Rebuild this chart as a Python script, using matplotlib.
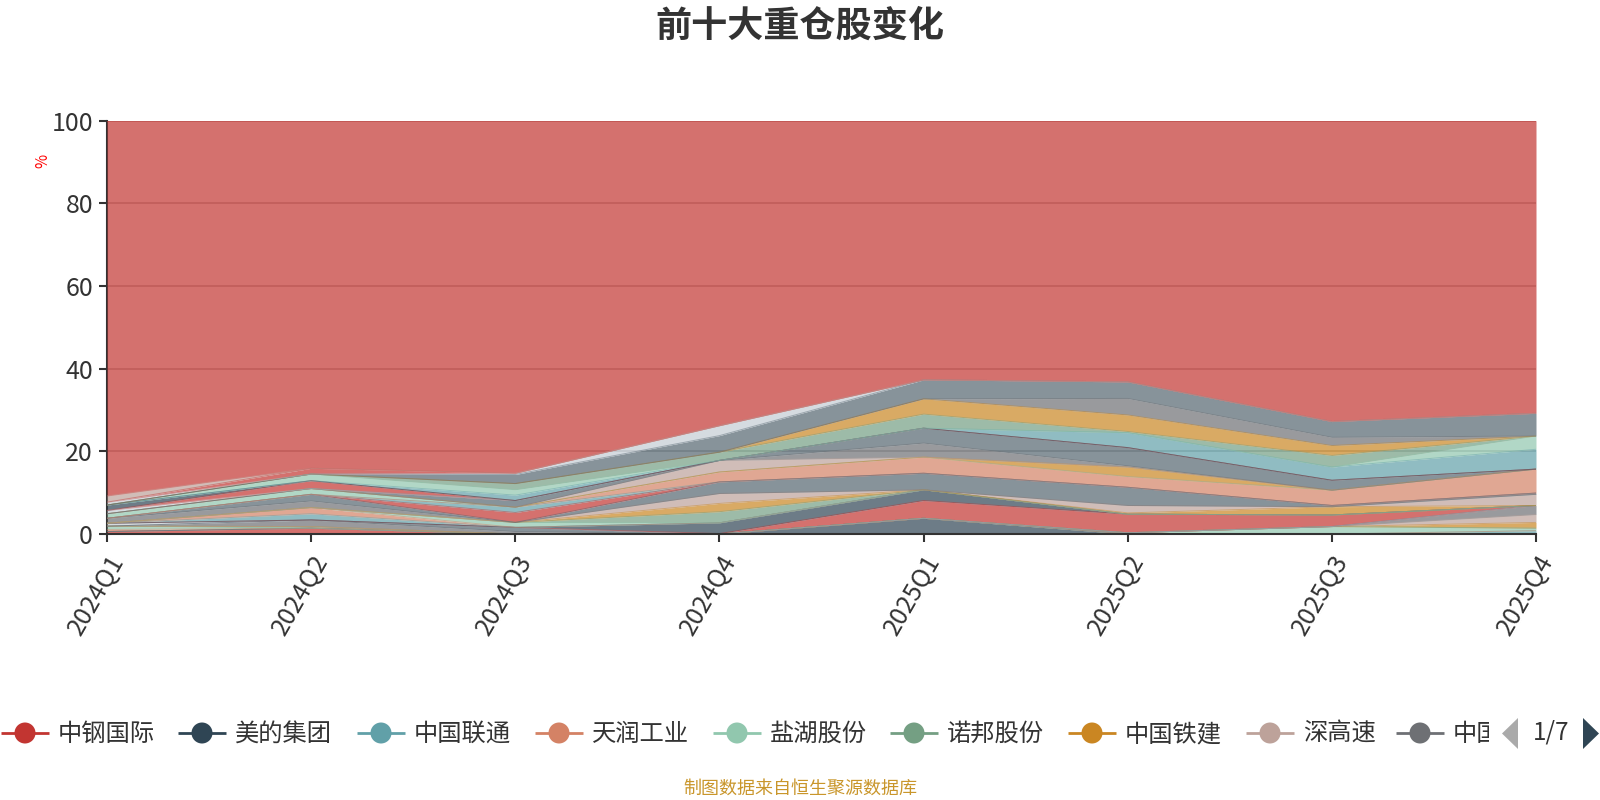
import matplotlib
matplotlib.use('Agg')
import matplotlib.pyplot as plt
import numpy as np
from matplotlib.patches import Circle, Polygon
from matplotlib.transforms import Bbox, TransformedBbox

plt.rcParams['font.family'] = ['Noto Sans CJK SC', 'DejaVu Sans']

# ---------------- data ----------------
quarters = ['2024Q1', '2024Q2', '2024Q3', '2024Q4', '2025Q1', '2025Q2', '2025Q3', '2025Q4']

stock_names = ['中钢国际', '美的集团', '中国联通', '天润工业', '盐湖股份', '诺邦股份', '中国铁建', '深高速',
               '中国核电', '个股10', '个股11', '个股12', '个股13', '个股14', '个股15', '个股16',
               '个股17', '个股18', '个股19', '个股20', '个股21', '个股23', '个股25', '个股26',
               '个股27', '个股29', '个股30', '个股31', '个股32', '个股33', '个股34', '个股35',
               '个股36', '个股38', '个股39', '个股40', '个股42', '个股43', '个股44', '个股45', '个股52']

stock_values = [
    [0.6, 1.4, 0, 0, 0, 0, 0, 0],
    [0, 0, 0, 0, 3.8, 0, 0, 0],
    [0, 0, 0, 0, 0, 0, 0, 0.8],
    [0.5, 0, 0, 0, 0, 0, 0, 0],
    [0.8, 0, 0, 0, 0, 0.3, 1.8, 0.6],
    [0, 0.4, 0, 0, 0, 0, 0, 0],
    [0, 0, 0, 0, 0, 0, 0, 1.4],
    [0, 0, 0, 0, 0, 0, 0, 1.9],
    [0, 1.6, 0.6, 0, 0, 0, 0, 2.2],
    [0, 0, 1.0, 0, 0, 0, 0, 0],
    [0.7, 0, 0, 0, 0, 0, 0, 0],
    [0, 0, 0, 0.1, 4.3, 4.5, 2.8, 0],
    [0, 0, 0, 2.6, 2.6, 0, 0, 0],
    [0, 1.5, 0, 0, 0, 0, 0, 0],
    [0, 1.5, 0, 0, 0, 0, 0, 0],
    [0, 0, 1.2, 0, 0, 0, 0, 0],
    [0, 0, 0, 2.7, 0, 0, 0, 0],
    [0, 0, 0, 2.0, 0, 0.3, 2.0, 0],
    [0, 0, 0, 2.4, 0, 1.8, 0, 2.7],
    [1.2, 1.6, 0, 0, 0, 0, 0, 0],
    [0, 1.6, 0, 2.8, 4.0, 4.4, 0.3, 0.3],
    [0, 0, 2.4, 0, 0, 0, 0, 0],
    [0, 0, 1.3, 0, 0, 0, 0, 0],
    [0, 0, 0, 2.4, 3.9, 2.6, 3.7, 5.8],
    [1.1, 1.4, 0, 0, 0, 0, 0, 0],
    [0, 0, 0, 0, 0, 2.3, 0, 0],
    [0, 0, 0, 2.8, 0, 0, 0, 0],
    [0, 0, 0, 0, 3.4, 0.3, 0, 0],
    [0, 0, 1.6, 0, 3.6, 4.4, 2.4, 0],
    [0.8, 0, 0, 0, 0, 0, 0, 0],
    [0, 1.9, 0, 0, 0, 0, 0, 0],
    [1.3, 0, 0, 0, 0, 0, 0, 0],
    [0, 0, 1.3, 0, 0, 3.6, 3.2, 4.8],
    [0, 1.6, 1.3, 0, 0, 0, 0, 3.2],
    [0, 0, 1.5, 2.0, 3.4, 0.3, 2.8, 0],
    [0, 0, 0, 0, 3.7, 4.0, 2.4, 0],
    [0, 0, 0, 0, 0, 4.0, 2.0, 0],
    [0, 0, 2.2, 4.0, 4.6, 4.0, 3.8, 5.5],
    [0.7, 0, 0.3, 2.4, 0, 0, 0, 0],
    [0, 1.4, 0, 0, 0, 0, 0, 0],
    [1.5, 0, 0, 0, 0, 0, 0, 0],
]
other_name = '其他'

# ---------------- style ----------------
palette = ['#c23531', '#2f4554', '#61a0a8', '#d48265', '#91c7ae', '#749f83',
           '#ca8622', '#bda29a', '#6e7074', '#546570', '#c4ccd3']
stock_slots = [0, 1, 2, 3, 4, 5, 6, 7, 8, 9, 10, 11, 12, 13, 14, 15, 16, 17, 18, 19, 20,
               22, 24, 25, 26, 28, 29, 30, 31, 32, 33, 34, 35, 37, 38, 39, 41, 42, 43, 44, 51]
other_slot = 55

W, H = 1600, 800
fig = plt.figure(figsize=(16, 8), dpi=100)
fig.patch.set_facecolor('white')

L, R, B, T = 107 / W, 1536 / W, 1 - 534 / H, 1 - 120.7 / H
ax = fig.add_axes([L, B, R - L, T - B])

x = np.arange(len(quarters))
vals = np.array(stock_values, dtype=float)
other = 100 - vals.sum(axis=0)
all_vals = np.vstack([vals, other])
all_cols = [palette[s % 11] for s in stock_slots] + [palette[other_slot % 11]]

base = np.zeros(len(quarters))
for v, c in zip(all_vals, all_cols):
    top = base + v
    ax.fill_between(x, base, top, color=c, alpha=0.7, linewidth=0, zorder=2)
    base = top
base = np.zeros(len(quarters))
for v, c in zip(all_vals, all_cols):
    top = base + v
    ax.plot(x, top, color=c, alpha=0.45, linewidth=0.7, zorder=3)
    base = top

ax.set_xlim(0, len(quarters) - 1)
ax.set_ylim(0, 100)
ax.set_yticks([0, 20, 40, 60, 80, 100])
ax.set_xticks(x)
ax.set_xticklabels(quarters, rotation=60, ha='right', va='top', rotation_mode='anchor')
ax.tick_params(axis='y', labelsize=18, colors='#333333', length=6, width=1.5, pad=4)
ax.tick_params(axis='x', labelsize=18, colors='#333333', length=6, width=1.5, pad=6)
ax.yaxis.grid(True, color='#bbbbbb', linewidth=1.2, zorder=1)
ax.set_axisbelow(True)
for s in ['top', 'right']:
    ax.spines[s].set_visible(False)
for s in ['left', 'bottom']:
    ax.spines[s].set_color('#333333')
    ax.spines[s].set_linewidth(1.5)
ax.spines['left'].set_zorder(1)
ax.spines['bottom'].set_zorder(5)

# overlay in pixel coordinates
ov = fig.add_axes([0, 0, 1, 1], facecolor='none')
ov.set_xlim(0, W)
ov.set_ylim(H, 0)
ov.axis('off')

ov.text(800, 26, '前十大重仓股变化', ha='center', va='center', fontsize=26,
        fontweight='bold', color='#333333')
ov.text(43, 161, '%', ha='center', va='center', rotation=90, fontsize=11, color='#ff0000')
ov.text(800, 789, '制图数据来自恒生聚源数据库', ha='center', va='center', fontsize=13, color='#c9962b')

# legend (page 1 of 7); the last item is cut off by the pager
legend_cx = [25, 202, 381, 559, 737, 914, 1092, 1270, 1420]
ly = 733
for i, cx in enumerate(legend_cx):
    c = palette[stock_slots[i] % 11]
    ov.plot([cx - 24, cx + 24], [ly, ly], color=c, linewidth=2, solid_capstyle='butt')
    ov.add_patch(Circle((cx, ly), 10.5, facecolor=c, edgecolor='none'))
    label = stock_names[i]
    if i == len(legend_cx) - 1:
        label = label[:2]
    t = ov.text(cx + 33, ly + 1, label, ha='left', va='center', fontsize=17.5, color='#333333')
    if i == len(legend_cx) - 1:
        t.set_clip_box(TransformedBbox(Bbox([[0, 0], [1489, H]]), ov.transData))
        t.set_clip_on(True)

ov.add_patch(Polygon([[1518, 718], [1518, 749], [1502, 733.5]], closed=True,
                     facecolor='#aaaaaa', edgecolor='none'))
ov.text(1551, 733, '1/7', ha='center', va='center', fontsize=17.5, color='#333333')
ov.add_patch(Polygon([[1583, 718], [1583, 749], [1599, 733.5]], closed=True,
                     facecolor='#2f4554', edgecolor='none'))

fig.savefig('out.png', dpi=100)
